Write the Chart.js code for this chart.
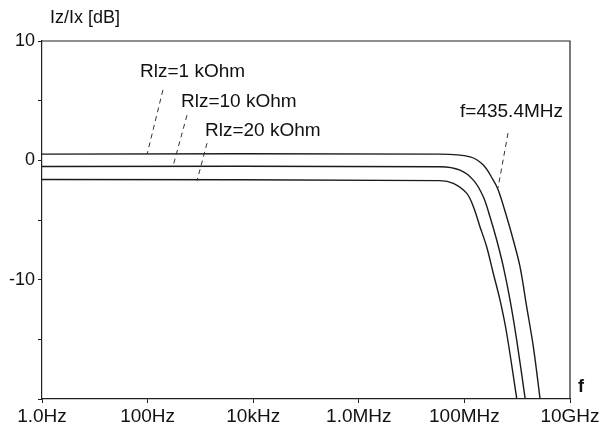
<!DOCTYPE html>
<html>
<head>
<meta charset="utf-8">
<script src="https://cdn.jsdelivr.net/npm/chart.js@4/dist/chart.umd.min.js"></script>
<style>
  body { margin: 0; background: #fff; }
  canvas { display: block; }
</style>
</head>
<body>
<canvas id="chart" width="605" height="430"></canvas>
<script>
// frequency response (Hz, dB)
const freqR1 = [1, 3.45e7, 1.28e8, 2.28e8, 3.52e8, 4.39e8, 6.32e8, 8.43e8, 1.13e9, 1.51e9, 2.02e9, 2.70e9];
const gainR1 = [0.52, 0.52, 0.29, -0.40, -1.66, -2.50, -4.73, -6.68, -8.91, -12.26, -15.61, -19.92];

const freqR2 = [1, 3.45e7, 8.26e7, 1.48e8, 2.28e8, 3.05e8, 4.09e8, 5.46e8, 7.31e8, 9.77e8, 1.41e9];
const gainR2 = [-0.52, -0.54, -0.82, -1.66, -3.05, -4.73, -6.68, -8.91, -11.70, -15.05, -19.92];

const freqR3 = [1, 3.45e7, 6.17e7, 1.11e8, 1.48e8, 1.97e8, 2.64e8, 3.52e8, 4.72e8, 6.32e8, 9.77e8];
const gainR3 = [-1.6, -1.7, -1.93, -2.77, -3.89, -5.56, -7.24, -9.46, -11.70, -14.49, -19.92];

const xTickValues = [1, 1e2, 1e4, 1e6, 1e8, 1e10];
const xTickLabels = ['1.0Hz', '100Hz', '10kHz', '1.0MHz', '100MHz', '10GHz'];
const yTickValues = [-20, -15, -10, -5, 0, 5, 10];
const yTickLabels = ['', '', '-10', '', '0', '', '10'];

// annotations: text anchor and dashed leader (tip on curve, tail near text)
const noteText  = ['Rlz=1 kOhm', 'Rlz=10 kOhm', 'Rlz=20 kOhm', 'f=435.4MHz'];
const noteFreq  = [72, 429, 1222, 7.37e9];
const noteGain  = [7.38, 4.87, 2.44, 4.03];
const noteAlign = ['left', 'left', 'left', 'right'];
const tipFreq   = [98, 302, 862, 4.33e8];
const tipGain   = [0.52, -0.52, -1.72, -2.32];
const tailFreq  = [195, 557, 1334, 6.7e8];
const tailGain  = [5.9, 3.78, 1.44, 2.28];

const FONT = '"Liberation Sans", Arial, sans-serif';

function toPoints(xs, ys) {
    return xs.map((x, i) => ({ x: x, y: ys[i] }));
}

const curveStyle = {
    borderColor: '#1a1a1a',
    borderWidth: 1.4,
    pointRadius: 0,
    fill: false,
    tension: 0.35
};

const decorPlugin = {
    id: 'decor',
    afterDatasetsDraw(chart) {
        const ctx = chart.ctx;
        const area = chart.chartArea;
        const xs = chart.scales.x;
        const ys = chart.scales.y;
        ctx.save();

        // frame on top and right
        ctx.strokeStyle = '#222';
        ctx.lineWidth = 1.2;
        ctx.beginPath();
        ctx.moveTo(area.left, area.top);
        ctx.lineTo(area.right, area.top);
        ctx.lineTo(area.right, area.bottom);
        ctx.stroke();

        // leaders
        ctx.setLineDash([5, 4]);
        ctx.lineWidth = 1;
        ctx.strokeStyle = '#333';
        for (let i = 0; i < noteText.length; i++) {
            ctx.beginPath();
            ctx.moveTo(xs.getPixelForValue(tailFreq[i]), ys.getPixelForValue(tailGain[i]));
            ctx.lineTo(xs.getPixelForValue(tipFreq[i]), ys.getPixelForValue(tipGain[i]));
            ctx.stroke();
        }
        ctx.setLineDash([]);

        // note texts
        ctx.fillStyle = '#111';
        ctx.font = '19px ' + FONT;
        ctx.textBaseline = 'middle';
        for (let i = 0; i < noteText.length; i++) {
            ctx.textAlign = noteAlign[i];
            ctx.fillText(noteText[i], xs.getPixelForValue(noteFreq[i]), ys.getPixelForValue(noteGain[i]));
        }

        // axis names
        ctx.textAlign = 'left';
        ctx.font = '18px ' + FONT;
        ctx.fillText('Iz/Ix [dB]', area.left + 8, area.top - 23);
        ctx.font = 'bold 18px ' + FONT;
        ctx.fillText('f', area.right + 8, area.bottom - 12);
        ctx.restore();
    }
};

new Chart(document.getElementById('chart'), {
    type: 'line',
    data: {
        datasets: [
            Object.assign({ label: 'Rlz=1 kOhm', data: toPoints(freqR1, gainR1) }, curveStyle),
            Object.assign({ label: 'Rlz=10 kOhm', data: toPoints(freqR2, gainR2) }, curveStyle),
            Object.assign({ label: 'Rlz=20 kOhm', data: toPoints(freqR3, gainR3) }, curveStyle)
        ]
    },
    options: {
        responsive: false,
        animation: false,
        devicePixelRatio: 1,
        layout: { padding: { top: 41, right: 35, left: 0, bottom: 0 } },
        plugins: {
            legend: { display: false },
            tooltip: { enabled: false }
        },
        scales: {
            x: {
                type: 'logarithmic',
                min: 1,
                max: 1e10,
                afterBuildTicks: (scale) => {
                    scale.ticks = xTickValues.map(v => ({ value: v }));
                },
                afterFit: (scale) => { scale.height = 31; },
                grid: {
                    drawOnChartArea: false,
                    drawTicks: true,
                    tickLength: 4,
                    color: '#222'
                },
                border: { color: '#222', width: 1.2 },
                ticks: {
                    autoSkip: false,
                    maxRotation: 0,
                    padding: 2,
                    color: '#111',
                    font: { family: FONT, size: 19 },
                    callback: (value) => {
                        const i = xTickValues.indexOf(value);
                        return i >= 0 ? xTickLabels[i] : '';
                    }
                }
            },
            y: {
                min: -20,
                max: 10,
                afterBuildTicks: (scale) => {
                    scale.ticks = yTickValues.map(v => ({ value: v }));
                },
                afterFit: (scale) => { scale.width = 42; },
                grid: {
                    drawOnChartArea: false,
                    drawTicks: true,
                    tickLength: 4,
                    color: '#222'
                },
                border: { color: '#222', width: 1.2 },
                ticks: {
                    autoSkip: false,
                    padding: 3,
                    color: '#111',
                    font: { family: FONT, size: 18 },
                    callback: (value) => {
                        const i = yTickValues.indexOf(value);
                        return i >= 0 ? yTickLabels[i] : '';
                    }
                }
            }
        }
    },
    plugins: [decorPlugin]
});
</script>
</body>
</html>
